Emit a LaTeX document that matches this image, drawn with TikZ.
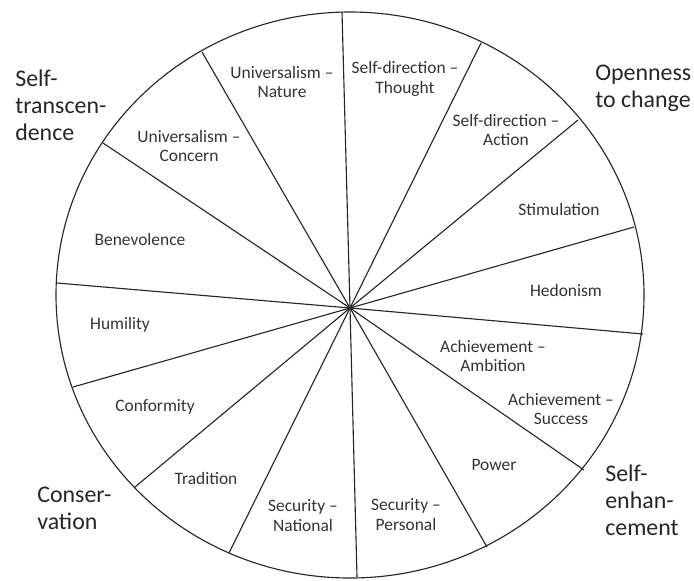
\documentclass[tikz,border=0pt]{standalone}
\usepackage{fontspec}
\setmainfont{Carlito}
\begin{document}
\begin{tikzpicture}[x=0.025cm, y=-0.025cm,
    spoke/.style={draw=black!85, line width=0.8pt},
    value/.style={inner sep=0pt, align=center, text=black!80, font=\fontsize{12.4}{14.2}\selectfont},
    group/.style={inner sep=0pt, anchor=west, align=left, text=black!85, font=\fontsize{17}{19.2}\selectfont}]
  \useasboundingbox (0,0) rectangle (694,580);
  \coordinate (hub) at (350,308);
  \draw[spoke] (350,295) ellipse [x radius=294, y radius=283];
  \foreach \px/\py [count=\i] in {342/12, 481/43, 578/120, 634/227, 643/334, 584/470, 487/547,
      357/577, 229/553, 135/487, 73/387, 57/283, 103/143, 202/52}
    \coordinate (rim\i) at (\px,\py);
  \foreach \i in {1,...,14}
    \draw[spoke] (hub) -- (rim\i);

  \node[value] (univnature) at (282,82) {Universalism –\\Nature};
  \node[value] (sdthought) at (405,79) {Self-direction –\\Thought};
  \node[value] (sdaction) at (506,130) {Self-direction –\\Action};
  \node[value] (stim) at (559,210) {Stimulation};
  \node[value] (hedon) at (566,291) {Hedonism};
  \node[value] (achamb) at (493,356) {Achievement –\\Ambition};
  \node[value] (achsucc) at (561,409) {Achievement –\\Success};
  \node[value] (power) at (494,465) {Power};
  \node[value] (secpers) at (406,515) {Security –\\Personal};
  \node[value] (secnat) at (303,516) {Security –\\National};
  \node[value] (trad) at (206,478) {Tradition};
  \node[value] (conf) at (155,407) {Conformity};
  \node[value] (humil) at (120,325) {Humility};
  \node[value] (benev) at (140,239) {Benevolence};
  \node[value] (univconcern) at (189,146) {Universalism –\\Concern};

  \node[group] (transcend) at (15,105) {Self-\\transcen-\\dence};
  \node[group] (openness) at (595,88) {Openness\\to change};
  \node[group] (conserv) at (37,508) {Conser-\\vation};
  \node[group] (enhance) at (605,500) {Self-\\enhan-\\cement};
\end{tikzpicture}
\end{document}
